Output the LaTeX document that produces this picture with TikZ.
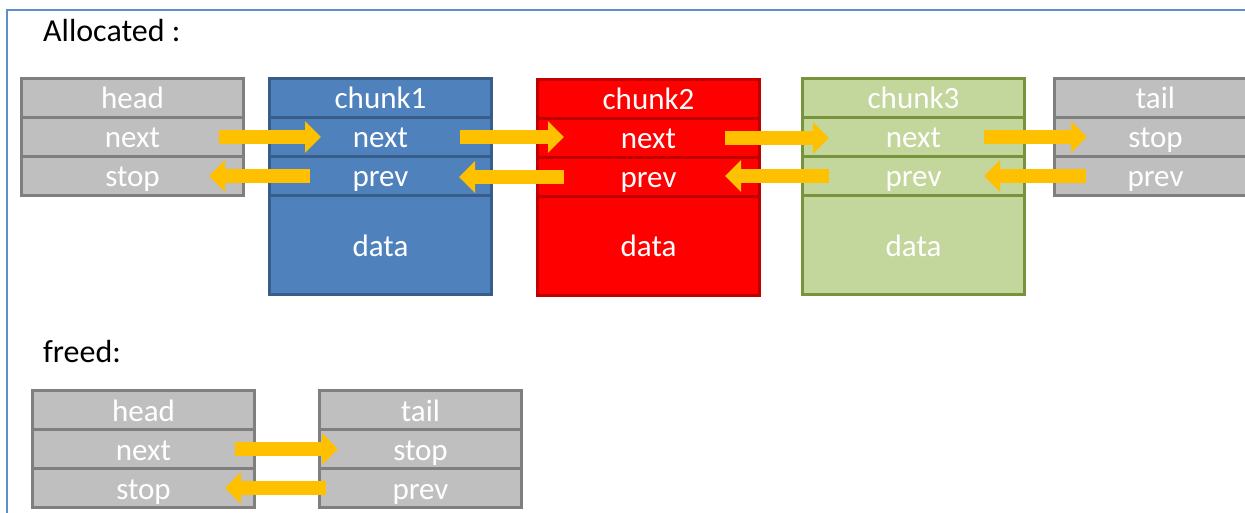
\documentclass[tikz,border=0pt]{standalone}
\usepackage{fontspec}
\setmainfont{Carlito}
\usetikzlibrary{arrows.meta}

\definecolor{cellgray}{HTML}{BFBFBF}
\definecolor{edgegray}{HTML}{7F7F7F}
\definecolor{blockblue}{HTML}{4F81BD}
\definecolor{edgeblue}{HTML}{385D8A}
\definecolor{blockred}{HTML}{FF0000}
\definecolor{edgered}{HTML}{C00000}
\definecolor{blockgreen}{HTML}{C3D69B}
\definecolor{edgegreen}{HTML}{77933C}
\definecolor{ptrorange}{HTML}{FFC000}
\definecolor{frameblue}{HTML}{5B8FD0}

\begin{document}
\begin{tikzpicture}[x=1pt, y=-1pt]
	\useasboundingbox (0,0) rectangle (1245,513);
	\draw[frameblue, line width=2pt] (7,513) -- (7,10) -- (1245,10);
	
	\tikzstyle{label}=[anchor=base west, inner sep=0pt, font=\fontsize{32}{38}\selectfont]
	\tikzstyle{cell}=[rectangle, anchor=north west, line width=3pt, inner sep=0pt, minimum width=222pt, minimum height=39pt, text height=22pt, text depth=0pt, text=white, font=\fontsize{31}{36}\selectfont]
	\tikzstyle{datacell}=[cell, minimum height=99pt]
	\tikzstyle{endcell}=[cell, minimum width=202pt]
	\tikzstyle{grey}=[draw=edgegray, fill=cellgray]
	\tikzstyle{blue}=[draw=edgeblue, fill=blockblue]
	\tikzstyle{red}=[draw=edgered, fill=blockred]
	\tikzstyle{green}=[draw=edgegreen, fill=blockgreen]
	\tikzstyle{ptr}=[draw=ptrorange, line width=14pt, -{Triangle[width=31pt, length=16pt]}]
	
	% ALLOCATED
	\path (43,42) node[label] (alloc) {Allocated :};
	
	\path (20,77) node[cell, grey] (hh) {head};
	\path (20,116) node[cell, grey] (hn) {next};
	\path (20,155) node[cell, grey] (hs) {stop};
	
	\path (268,77) node[cell, blue] (c1) {chunk1};
	\path (268,116) node[cell, blue] (c1n) {next};
	\path (268,155) node[cell, blue] (c1p) {prev};
	\path (268,194) node[datacell, blue] (c1d) {data};
	
	\path (536,78) node[cell, red] (c2) {chunk2};
	\path (536,117) node[cell, red] (c2n) {next};
	\path (536,156) node[cell, red] (c2p) {prev};
	\path (536,195) node[datacell, red] (c2d) {data};
	
	\path (801,77) node[cell, green] (c3) {chunk3};
	\path (801,116) node[cell, green] (c3n) {next};
	\path (801,155) node[cell, green] (c3p) {prev};
	\path (801,194) node[datacell, green] (c3d) {data};
	
	\path (1053,77) node[endcell, grey] (tt) {tail};
	\path (1053,116) node[endcell, grey] (ts) {stop};
	\path (1053,155) node[endcell, grey] (tp) {prev};
	
	\draw[ptr] ([xshift=-26pt]hn.east) -- ([xshift=53pt]c1n.west);
	\draw[ptr] ([xshift=-33pt]c1n.east) -- ([xshift=28pt]c1n.east -| c2n.west);
	\draw[ptr] ([xshift=-36pt]c2n.east) -- ([xshift=28pt]c2n.east -| c3n.west);
	\draw[ptr] ([xshift=-42pt]c3n.east) -- ([xshift=34pt]ts.west);
	
	\draw[ptr] ([xshift=42pt]c1p.west) -- ([xshift=-36pt]hs.east);
	\draw[ptr] ([xshift=28pt]c2p.west) -- ([xshift=-34pt]c2p.west -| c1p.east);
	\draw[ptr] ([xshift=28pt]c3p.west) -- ([xshift=-36pt]c3p.west -| c2p.east);
	\draw[ptr] ([xshift=33pt]tp.west) -- ([xshift=-42pt]c3p.east);
	
	% FREED
	\path (43,362) node[label] (freed) {freed:};
	
	\path (31,389) node[cell, grey] (fhh) {head};
	\path (31,428) node[cell, grey] (fhn) {next};
	\path (31,467) node[cell, grey] (fhs) {stop};
	
	\path (318,389) node[endcell, grey] (ftt) {tail};
	\path (318,428) node[endcell, grey] (fts) {stop};
	\path (318,467) node[endcell, grey] (ftp) {prev};
	
	\draw[ptr] ([xshift=-21pt]fhn.east) -- ([xshift=20pt]fts.west);
	\draw[ptr] ([xshift=8pt]ftp.west) -- ([xshift=-31pt]fhs.east);
	
\end{tikzpicture}
\end{document}
